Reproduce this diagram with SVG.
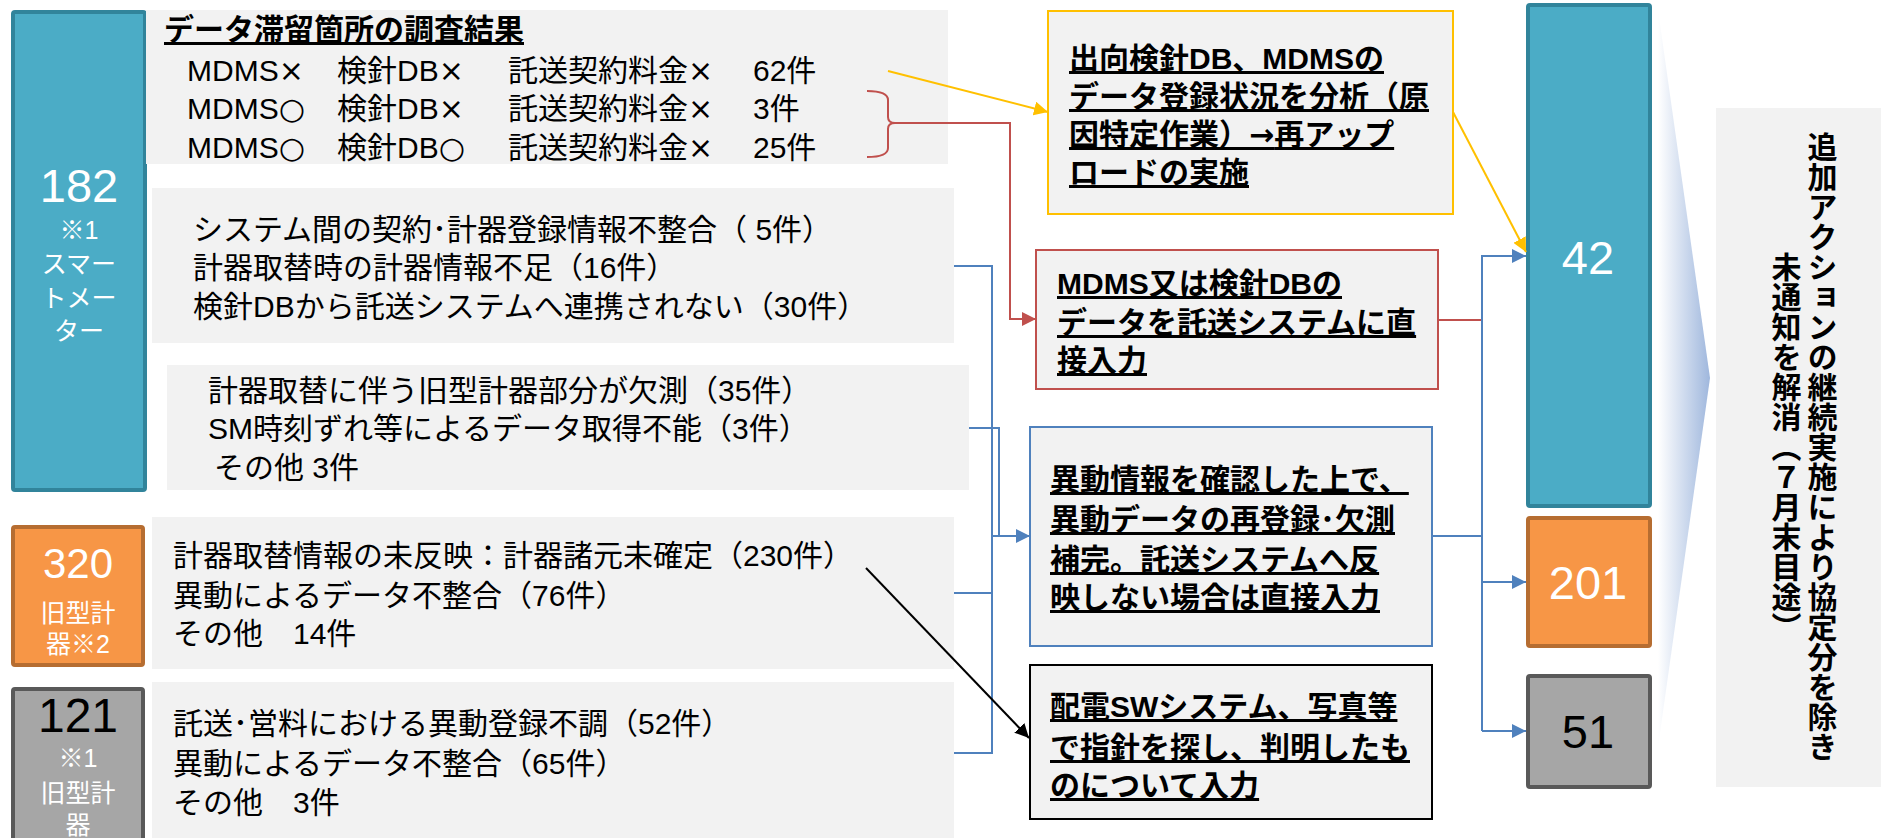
<svg xmlns="http://www.w3.org/2000/svg" width="1881" height="838" viewBox="0 0 1881 838">
<style>
text{font-family:"Liberation Sans","Noto Sans CJK JP",sans-serif;}
.j{font-family:"Noto Sans CJK JP",sans-serif;}
.s{font-family:"DejaVu Sans",sans-serif;}
.t{font-size:30px;fill:#000;}
.b{font-size:30px;fill:#000;font-weight:bold;text-decoration:underline;}
.panel{fill:#f2f2f2;}
.blue{fill:#4bacc6;stroke:#31849b;stroke-width:4;}
.org{fill:#f79646;stroke:#b66d31;stroke-width:4;}
.gry{fill:#a6a6a6;stroke:#595959;stroke-width:4;}
.num{text-anchor:middle;}
.lbl{font-size:25px;fill:#fff;text-anchor:middle;}
.c{fill:none;stroke-width:2;}
</style>
<defs>
<marker id="ab" markerUnits="userSpaceOnUse" markerWidth="14" markerHeight="14" refX="14" refY="7" orient="auto"><path d="M0,0L14,7L0,14z" fill="#4f81bd"/></marker>
<marker id="ar" markerUnits="userSpaceOnUse" markerWidth="14" markerHeight="14" refX="14" refY="7" orient="auto"><path d="M0,0L14,7L0,14z" fill="#c0504d"/></marker>
<marker id="ay" markerUnits="userSpaceOnUse" markerWidth="14" markerHeight="14" refX="14" refY="7" orient="auto"><path d="M0,0L14,7L0,14z" fill="#ffc000"/></marker>
<marker id="ak" markerUnits="userSpaceOnUse" markerWidth="14" markerHeight="14" refX="14" refY="7" orient="auto"><path d="M0,0L14,7L0,14z" fill="#000"/></marker>
<linearGradient id="wg" x1="0" y1="0" x2="1" y2="0"><stop offset="0" stop-color="#ffffff"/><stop offset="1" stop-color="#9fb7dd"/></linearGradient>
</defs>

<!-- wedge and right panel -->
<g id="wedge"><polygon points="1658,10 1710,378 1658,747" fill="url(#wg)"/></g>
<g id="summary">
<rect x="1716" y="108" width="165" height="679" class="panel"/>
<text x="1820" y="447" style="writing-mode:vertical-rl" text-anchor="middle" font-size="30" font-weight="bold">追加アクションの継続実施により協定分を除き</text>
<text x="1784" y="447" style="writing-mode:vertical-rl" text-anchor="middle" font-size="30" font-weight="bold">未通知を解消（７月末目途）</text>
</g>

<!-- left category boxes -->
<g id="n182">
<rect x="13" y="12" width="132" height="478" rx="2" class="blue"/>
<text x="79" y="202" class="num" font-size="47" fill="#fff">182</text>
<text x="79" y="239" class="lbl">※1</text>
<text x="79" y="273" class="lbl">スマー</text>
<text x="79" y="307" class="lbl">トメー</text>
<text x="79" y="340" class="lbl">ター</text>
</g>
<g id="n320">
<rect x="13" y="527" width="130" height="138" rx="2" class="org"/>
<text x="78" y="578" class="num" font-size="42" fill="#fff">320</text>
<text x="78" y="622" class="lbl" font-size="26">旧型計</text>
<text x="78" y="653" class="lbl" font-size="26">器※2</text>
</g>
<g id="n121">
<rect x="13" y="689" width="130" height="170" rx="2" class="gry"/>
<text x="78" y="732" class="num" font-size="48" fill="#000">121</text>
<text x="78" y="767" class="lbl" font-size="26">※1</text>
<text x="78" y="802" class="lbl" font-size="26">旧型計</text>
<text x="78" y="834" class="lbl" font-size="26">器</text>
</g>

<!-- detail boxes -->
<g id="d1">
<rect x="146" y="10" width="802" height="154" class="panel"/>
<text x="164" y="40" class="b">データ滞留箇所の調査結果</text>
<text y="81" class="t"><tspan x="187">MDMS</tspan><tspan class="s">×</tspan><tspan x="337">検針DB</tspan><tspan class="s">×</tspan><tspan x="508">託送契約料金</tspan><tspan class="s">×</tspan><tspan x="753">62件</tspan></text>
<text y="119" class="t"><tspan x="187">MDMS</tspan><tspan class="s">○</tspan><tspan x="337">検針DB</tspan><tspan class="s">×</tspan><tspan x="508">託送契約料金</tspan><tspan class="s">×</tspan><tspan x="753">3件</tspan></text>
<text y="158" class="t"><tspan x="187">MDMS</tspan><tspan class="s">○</tspan><tspan x="337">検針DB</tspan><tspan class="s">○</tspan><tspan x="508">託送契約料金</tspan><tspan class="s">×</tspan><tspan x="753">25件</tspan></text>
</g>
<g id="d2">
<rect x="152" y="188" width="802" height="155" class="panel"/>
<text x="193" y="240" class="t">システム間の契約･計器登録情報不整合（ 5件）</text>
<text x="193" y="278" class="t">計器取替時の計器情報不足（16件）</text>
<text x="193" y="317" class="t">検針DBから託送システムへ連携されない（30件）</text>
</g>
<g id="d3">
<rect x="167" y="365" width="802" height="125" class="panel"/>
<text x="208" y="401" class="t">計器取替に伴う旧型計器部分が欠測（35件）</text>
<text x="208" y="439" class="t">SM時刻ずれ等によるデータ取得不能（3件）</text>
<text x="214" y="478" class="t">その他 3件</text>
</g>
<g id="d4">
<rect x="152" y="517" width="802" height="152" class="panel"/>
<text x="173" y="566" class="t">計器取替情報の未反映：計器諸元未確定（230件）</text>
<text x="173" y="606" class="t">異動によるデータ不整合（76件）</text>
<text x="173" y="644" class="t">その他　14件</text>
</g>
<g id="d5">
<rect x="152" y="682" width="802" height="170" class="panel"/>
<text x="173" y="734" class="t">託送･営料における異動登録不調（52件）</text>
<text x="173" y="774" class="t">異動によるデータ不整合（65件）</text>
<text x="173" y="813" class="t">その他　3件</text>
</g>

<!-- action boxes -->
<g id="a1">
<rect x="1048" y="11" width="405" height="203" class="panel" stroke="#ffc000" stroke-width="2"/>
<text x="1069" y="69" class="b">出向検針DB、MDMSの</text>
<text x="1069" y="107" class="b">データ登録状況を分析（原</text>
<text x="1069" y="145" class="b">因特定作業）<tspan class="s">→</tspan>再アップ</text>
<text x="1069" y="183" class="b">ロードの実施</text>
</g>
<g id="a2">
<rect x="1036" y="250" width="402" height="139" class="panel" stroke="#c0504d" stroke-width="2"/>
<text x="1057" y="294" class="b">MDMS又は検針DBの</text>
<text x="1057" y="333" class="b">データを託送システムに直</text>
<text x="1057" y="371" class="b">接入力</text>
</g>
<g id="a3">
<rect x="1030" y="427" width="402" height="219" class="panel" stroke="#4f81bd" stroke-width="2"/>
<text x="1050" y="490" class="b">異動情報を確認した上で、</text>
<text x="1050" y="530" class="b">異動データの再登録･欠測</text>
<text x="1050" y="570" class="b">補完。託送システムへ反</text>
<text x="1050" y="608" class="b">映しない場合は直接入力</text>
</g>
<g id="a4">
<rect x="1030" y="665" width="402" height="154" class="panel" stroke="#000" stroke-width="2"/>
<text x="1050" y="717" class="b">配電SWシステム、写真等</text>
<text x="1050" y="758" class="b">で指針を探し、判明したも</text>
<text x="1050" y="796" class="b">のについて入力</text>
</g>

<!-- result boxes -->
<g id="r42">
<rect x="1528" y="5" width="122" height="501" rx="2" class="blue"/>
<text x="1588" y="274" class="num" font-size="47" fill="#fff">42</text>
</g>
<g id="r201">
<rect x="1528" y="518" width="122" height="128" rx="2" class="org"/>
<text x="1588" y="599" class="num" font-size="47" fill="#fff">201</text>
</g>
<g id="r51">
<rect x="1528" y="676" width="122" height="111" rx="2" class="gry"/>
<text x="1588" y="748" class="num" font-size="47" fill="#000">51</text>
</g>

<!-- connectors -->
<g id="connectors">
<path class="c" stroke="#ffc000" d="M888,71L1048,112" marker-end="url(#ay)"/>
<path class="c" stroke="#ffc000" d="M1453,112L1526,252" marker-end="url(#ay)"/>
<path class="c" stroke="#c0504d" d="M867,91Q888,91 888,100L888,117Q888,123 895,123Q888,123 888,129L888,148Q888,157 867,157"/>
<path class="c" stroke="#c0504d" d="M893,123H1010V319H1036" marker-end="url(#ar)"/>
<path class="c" stroke="#c0504d" d="M1438,320H1482"/>
<path class="c" stroke="#4f81bd" d="M954,266H992V753H954"/>
<path class="c" stroke="#4f81bd" d="M969,428H999V536"/>
<path class="c" stroke="#4f81bd" d="M954,593H992"/>
<path class="c" stroke="#4f81bd" d="M992,536H1030" marker-end="url(#ab)"/>
<path class="c" stroke="#4f81bd" d="M1432,536H1482"/>
<path class="c" stroke="#4f81bd" d="M1482,731V256H1526" marker-end="url(#ab)"/>
<path class="c" stroke="#4f81bd" d="M1482,582H1526" marker-end="url(#ab)"/>
<path class="c" stroke="#4f81bd" d="M1482,731H1526" marker-end="url(#ab)"/>
<path class="c" stroke="#000" stroke-width="1.5" d="M866,568L1029,738" marker-end="url(#ak)"/>
</g>
</svg>
